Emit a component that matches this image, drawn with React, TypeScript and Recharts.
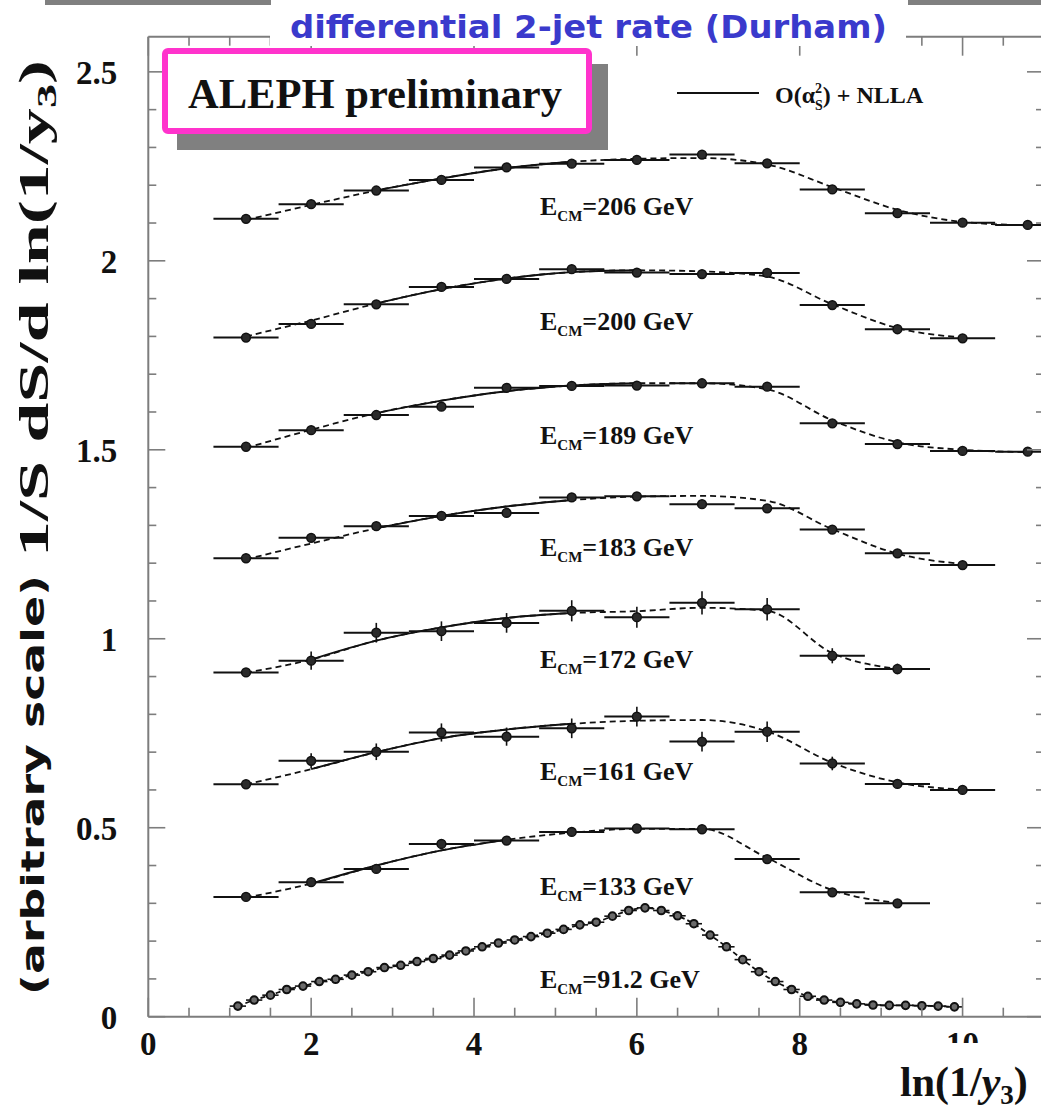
import React from "react";
import { ComposedChart, Line, Scatter, XAxis, YAxis, ErrorBar } from "recharts";

// bin centres of the LEP2 measurements (bins of width 0.8)
const binCenters = [1.2, 2.0, 2.8, 3.6, 4.4, 5.2, 6.0, 6.8, 7.6, 8.4, 9.2, 10.0, 10.8];
const binHalfWidth = 0.4;

const data206 = [2.111, 2.15, 2.186, 2.214, 2.247, 2.257, 2.267, 2.281, 2.258, 2.189, 2.126, 2.101, 2.095];
const fit206 = [2.108, 2.148, 2.186, 2.218, 2.245, 2.262, 2.27, 2.272, 2.255, 2.195, 2.135, 2.103, 2.094];

const data200 = [1.797, 1.833, 1.885, 1.931, 1.952, 1.978, 1.969, 1.965, 1.968, 1.883, 1.819, 1.795];
const fit200 = [1.8, 1.842, 1.887, 1.925, 1.953, 1.97, 1.975, 1.972, 1.958, 1.885, 1.822, 1.797];

const data189 = [1.508, 1.552, 1.592, 1.614, 1.664, 1.669, 1.67, 1.676, 1.667, 1.57, 1.515, 1.497, 1.495];
const fit189 = [1.505, 1.553, 1.597, 1.63, 1.655, 1.67, 1.676, 1.676, 1.66, 1.578, 1.52, 1.5, 1.494];

const data183 = [1.213, 1.267, 1.298, 1.325, 1.333, 1.374, 1.377, 1.356, 1.345, 1.289, 1.226, 1.195];
const fit183 = [1.21, 1.252, 1.292, 1.325, 1.35, 1.367, 1.376, 1.378, 1.365, 1.29, 1.225, 1.198];

const data172 = [0.911, 0.942, 1.016, 1.02, 1.042, 1.074, 1.057, 1.095, 1.078, 0.955, 0.92];
const err172 = [0.008, 0.024, 0.026, 0.026, 0.026, 0.028, 0.028, 0.031, 0.03, 0.02, 0.014];
const fit172 = [0.91, 0.945, 0.995, 1.03, 1.055, 1.068, 1.073, 1.082, 1.074, 0.962, 0.92];

const data161 = [0.615, 0.677, 0.701, 0.752, 0.741, 0.763, 0.794, 0.728, 0.754, 0.67, 0.616, 0.6];
const err161 = [0.008, 0.02, 0.022, 0.024, 0.024, 0.026, 0.026, 0.026, 0.027, 0.018, 0.01, 0.008];
const fit161 = [0.615, 0.655, 0.7, 0.737, 0.76, 0.775, 0.783, 0.785, 0.755, 0.672, 0.62, 0.601];

const data133 = [0.317, 0.356, 0.391, 0.457, 0.466, 0.489, 0.498, 0.496, 0.417, 0.329, 0.3];
const fit133 = [0.315, 0.352, 0.4, 0.44, 0.468, 0.487, 0.497, 0.497, 0.42, 0.335, 0.301];

// LEP1 (91.2 GeV) has fine bins of width 0.2
const fineCenters = [
  1.1, 1.3, 1.5, 1.7, 1.9, 2.1, 2.3, 2.5, 2.7, 2.9, 3.1, 3.3, 3.5, 3.7, 3.9, 4.1, 4.3, 4.5, 4.7, 4.9, 5.1, 5.3, 5.5,
  5.7, 5.9, 6.1, 6.3, 6.5, 6.7, 6.9, 7.1, 7.3, 7.5, 7.7, 7.9, 8.1, 8.3, 8.5, 8.7, 8.9, 9.1, 9.3, 9.5, 9.7, 9.9,
];
const fineHalfWidth = 0.1;
const data91 = [
  0.028, 0.044, 0.057, 0.072, 0.081, 0.093, 0.099, 0.11, 0.119, 0.13, 0.136, 0.146, 0.154, 0.163, 0.174, 0.185,
  0.195, 0.203, 0.212, 0.221, 0.231, 0.243, 0.25, 0.266, 0.281, 0.288, 0.281, 0.267, 0.246, 0.216, 0.185, 0.151,
  0.119, 0.093, 0.072, 0.054, 0.044, 0.038, 0.034, 0.031, 0.03, 0.03, 0.029, 0.028, 0.026,
];

const xTicks = [0, 0.5, 1, 1.5, 2, 2.5, 3, 3.5, 4, 4.5, 5, 5.5, 6, 6.5, 7, 7.5, 8, 8.5, 9, 9.5, 10, 10.5, 11];
const xLabels = [0, 2, 4, 6, 8, 10];
const yTicks = [
  0, 0.1, 0.2, 0.3, 0.4, 0.5, 0.6, 0.7, 0.8, 0.9, 1, 1.1, 1.2, 1.3, 1.4, 1.5, 1.6, 1.7, 1.8, 1.9, 2, 2.1, 2.2, 2.3,
  2.4, 2.5,
];
const yLabels = [0, 0.5, 1, 1.5, 2, 2.5];

const energies = ["206", "200", "189", "183", "172", "161", "133", "91.2"];
const labelBaselines = [215, 330, 444, 556, 668, 780, 895, 988];

const AXIS = "#7d7d7d";
const INK = "#111";
const SERIF = "'Liberation Serif', 'Times New Roman', serif";
const COMIC = "'Comic Sans MS', 'DejaVu Sans', sans-serif";

const series = [
  { data: data206, fit: fit206, err: null, solid: [2, 5] },
  { data: data200, fit: fit200, err: null, solid: [2, 6] },
  { data: data189, fit: fit189, err: null, solid: [2, 6] },
  { data: data183, fit: fit183, err: null, solid: [2, 5] },
  { data: data172, fit: fit172, err: err172, solid: [1, 5] },
  { data: data161, fit: fit161, err: err161, solid: [1, 5] },
  { data: data133, fit: fit133, err: null, solid: [1, 4] },
];

const near = (v: number, list: number[]) => list.some((t) => Math.abs(t - v) < 1e-6);

const LeftTick = (p: any) => {
  const major = near(p.payload.value, yLabels);
  return (
    <g>
      <line x1={p.x} y1={p.y} x2={p.x + (major ? 17 : 8)} y2={p.y} stroke={AXIS} strokeWidth={1.6} />
      {major && (
        <text x={p.x - 31} y={p.y} dy="0.36em" textAnchor="end" fontFamily={SERIF} fontWeight="bold" fontSize={33} fill={INK}>
          {String(p.payload.value)}
        </text>
      )}
    </g>
  );
};

const RightTick = (p: any) => {
  const major = near(p.payload.value, yLabels);
  return <line x1={p.x} y1={p.y} x2={p.x - (major ? 17 : 8)} y2={p.y} stroke={AXIS} strokeWidth={1.6} />;
};

const BottomTick = (p: any) => {
  const major = near(p.payload.value, xLabels);
  return (
    <g>
      <line x1={p.x} y1={p.y} x2={p.x} y2={p.y - (major ? 19 : 9)} stroke={AXIS} strokeWidth={1.6} />
      {major && (
        <text x={p.x} y={p.y + 38} textAnchor="middle" fontFamily={SERIF} fontWeight="bold" fontSize={33} fill={INK}>
          {String(p.payload.value)}
        </text>
      )}
    </g>
  );
};

const TopTick = (p: any) => {
  const major = near(p.payload.value, xLabels);
  return <line x1={p.x} y1={p.y} x2={p.x} y2={p.y + (major ? 19 : 9)} stroke={AXIS} strokeWidth={1.6} />;
};

const Dot = (p: any) => <circle cx={p.cx} cy={p.cy} r={4.4} fill="#2a2a2a" stroke={INK} strokeWidth={1.5} />;
const SmallDot = (p: any) => <circle cx={p.cx} cy={p.cy} r={3.8} fill="#6a6a6a" stroke={INK} strokeWidth={2} />;

export default function App() {
  const sets = series.map((s) => {
    const pts = s.data.map((y, i) => ({ x: binCenters[i], y, ex: binHalfWidth, ey: s.err ? s.err[i] : 0 }));
    const curve = s.fit.map((y, i) => ({ x: binCenters[i], y }));
    return { pts, curve, solidCurve: curve.slice(s.solid[0], s.solid[1] + 1), hasErr: !!s.err };
  });
  const pts91 = data91.map((y, i) => ({ x: fineCenters[i], y, ex: fineHalfWidth }));

  return (
    <div style={{ position: "absolute", left: 0, top: 0, width: 1041, height: 1113, overflow: "hidden", background: "#fff" }}>
      <ComposedChart
        width={1100}
        height={1113}
        margin={{ top: 6.7, right: 16, left: 108.3, bottom: 66.3 }}
      >
        <XAxis
          dataKey="x"
          type="number"
          domain={[0, 11]}
          allowDataOverflow
          ticks={xTicks}
          interval={0}
          height={30}
          tickSize={0}
          tickMargin={0}
          tickLine={false}
          axisLine={{ stroke: AXIS, strokeWidth: 2 }}
          tick={<BottomTick />}
        />
        <XAxis
          xAxisId="top"
          orientation="top"
          dataKey="x"
          type="number"
          domain={[0, 11]}
          allowDataOverflow
          ticks={xTicks}
          interval={0}
          height={30}
          tickSize={0}
          tickMargin={0}
          tickLine={false}
          axisLine={{ stroke: AXIS, strokeWidth: 2 }}
          tick={<TopTick />}
        />
        <YAxis
          dataKey="y"
          type="number"
          domain={[0, 2.593]}
          allowDataOverflow
          ticks={yTicks}
          interval={0}
          width={40}
          tickSize={0}
          tickMargin={0}
          tickLine={false}
          axisLine={{ stroke: AXIS, strokeWidth: 2 }}
          tick={<LeftTick />}
        />
        <YAxis
          yAxisId="right"
          orientation="right"
          dataKey="y"
          type="number"
          domain={[0, 2.593]}
          allowDataOverflow
          ticks={yTicks}
          interval={0}
          width={40}
          tickSize={0}
          tickMargin={0}
          tickLine={false}
          axisLine={{ stroke: AXIS, strokeWidth: 2 }}
          tick={<RightTick />}
        />

        {sets.map((s, k) => (
          <Line
            key={`d${k}`}
            data={s.curve}
            dataKey="y"
            type="monotone"
            stroke={INK}
            strokeWidth={1.8}
            strokeDasharray="6 4"
            dot={false}
            activeDot={false}
            isAnimationActive={false}
          />
        ))}
        {sets.map((s, k) => (
          <Line
            key={`s${k}`}
            data={s.solidCurve}
            dataKey="y"
            type="monotone"
            stroke={INK}
            strokeWidth={1.9}
            dot={false}
            activeDot={false}
            isAnimationActive={false}
          />
        ))}
        <Line
          data={pts91}
          dataKey="y"
          type="monotone"
          stroke={INK}
          strokeWidth={1.8}
          strokeDasharray="5 3"
          dot={false}
          activeDot={false}
          isAnimationActive={false}
        />

        {sets.map((s, k) => (
          <Scatter key={`p${k}`} data={s.pts} dataKey="y" shape={<Dot />} isAnimationActive={false}>
            <ErrorBar dataKey="ex" direction="x" width={0} stroke={INK} strokeWidth={2} isAnimationActive={false} />
            {s.hasErr && (
              <ErrorBar dataKey="ey" direction="y" width={0} stroke={INK} strokeWidth={1.6} isAnimationActive={false} />
            )}
          </Scatter>
        ))}
        <Scatter data={pts91} dataKey="y" shape={<SmallDot />} isAnimationActive={false}>
          <ErrorBar dataKey="ex" direction="x" width={0} stroke={INK} strokeWidth={1.6} isAnimationActive={false} />
        </Scatter>
      </ComposedChart>

      <svg
        width={1041}
        height={1113}
        style={{ position: "absolute", left: 0, top: 0, pointerEvents: "none" }}
      >
        {/* slide decoration */}
        <rect x={45} y={0} width={226} height={5} fill="#808080" />
        <rect x={908} y={0} width={133} height={5} fill="#808080" />
        <rect x={270} y={6} width={636} height={40} fill="#fff" />
        <text x={290} y={38} fontFamily={COMIC} fontWeight="bold" fontSize={32} fill="#3a3acc" textLength={597} lengthAdjust="spacingAndGlyphs">
          differential 2-jet rate (Durham)
        </text>

        {/* ALEPH box */}
        <rect x={177} y={64} width={431} height={86} fill="#808080" />
        <rect x={165} y={51} width={424} height={80} rx={3} fill="#fff" stroke="#ff33cc" strokeWidth={6} />
        <text x={188} y={108} fontFamily={SERIF} fontWeight="bold" fontSize={43} fill={INK} textLength={374} lengthAdjust="spacingAndGlyphs">
          ALEPH preliminary
        </text>

        {/* legend */}
        <line x1={677} y1={93} x2={759} y2={93} stroke={INK} strokeWidth={2} />
        <text x={775} y={103} fontFamily={SERIF} fontWeight="bold" fontSize={24} fill={INK}>
          O(α
          <tspan fontSize={14} dy={-10}>2</tspan>
          <tspan fontSize={14} dx={-7} dy={17}>S</tspan>
          <tspan dy={-7}>) + NLLA</tspan>
        </text>

        {/* energy labels */}
        {energies.map((e, i) => (
          <text key={e} x={540} y={labelBaselines[i]} fontFamily={SERIF} fontWeight="bold" fontSize={26} fill={INK}>
            E<tspan fontSize={15} dy={6}>CM</tspan>
            <tspan dy={-6}>={e} GeV</tspan>
          </text>
        ))}

        {/* y title */}
        <text
          transform="translate(44,995) rotate(-90)"
          fontFamily={COMIC}
          fontWeight="bold"
          fontSize={32}
          fill={INK}
          textLength={420}
          lengthAdjust="spacingAndGlyphs"
        >
          (arbitrary scale)
        </text>
        <text
          transform="translate(48,557) rotate(-90)"
          fontFamily={SERIF}
          fontWeight="bold"
          fontSize={42}
          fill={INK}
          textLength={497}
          lengthAdjust="spacingAndGlyphs"
        >
          1/S dS/d ln(1/y<tspan fontSize={28} dy={8}>3</tspan>
          <tspan dy={-8}>)</tspan>
        </text>

        {/* x title */}
        <rect x={885} y={1043} width={156} height={70} fill="#fff" />
        <text x={900} y={1096} fontFamily={SERIF} fontWeight="bold" fontSize={42} fill={INK}>
          ln(1/<tspan fontStyle="italic">y</tspan>
          <tspan fontSize={27} dy={8}>3</tspan>
          <tspan dy={-8}>)</tspan>
        </text>
      </svg>
    </div>
  );
}
